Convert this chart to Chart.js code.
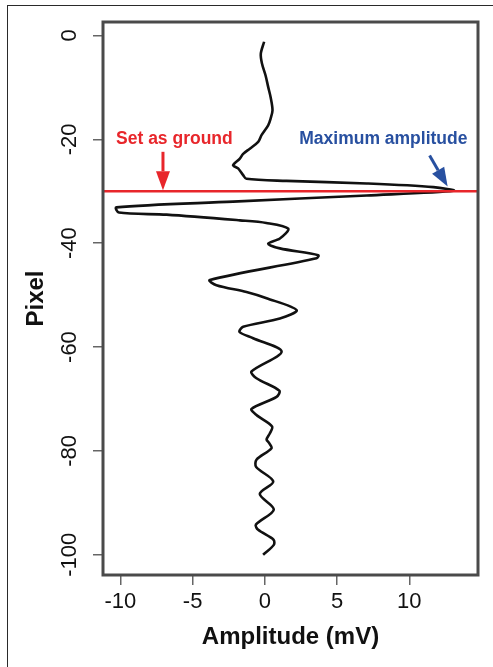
<!DOCTYPE html>
<html>
<head>
<meta charset="utf-8">
<script src="https://cdn.jsdelivr.net/npm/chart.js@4.4.1/dist/chart.umd.min.js"></script>
<style>
body{margin:0;background:#fff}
#wrap{position:relative;width:493px;height:667px;overflow:hidden}
#frame{position:absolute;left:7px;top:5px;width:520px;height:700px;border-left:1.5px solid #2a2a2a;border-top:1.5px solid #2a2a2a}
canvas{position:absolute;left:0;top:0}
</style>
</head>
<body>
<div id="wrap"><div id="frame"></div><canvas id="c" width="493" height="667"></canvas></div>
<script>
// trace, top -> bottom
const pixel = [-1.2, -3.5, -5.4, -7.7, -9.9, -11.9, -14.4, -16.0, -17.3, -19.2, -20.5, -21.8, -22.8, -23.7, -25.0, -25.6, -26.9, -27.6, -28.0, -28.5, -29.2, -29.9, -30.8, -32.0, -33.1, -34.1, -34.5, -35.6, -36.1, -37.2, -39.1, -40.1, -41.0, -42.3, -42.9, -47.1, -48.1, -49.4, -50.6, -52.9, -54.5, -56.1, -57.1, -58.3, -60.9, -64.7, -66.0, -68.4, -69.6, -71.9, -73.1, -75.3, -76.6, -77.8, -78.5, -79.5, -81.7, -83.1, -85.9, -88.3, -91.3, -94.2, -95.2, -97.1, -98.1, -100.0]
const amplitude = [-0.05, -0.28, -0.2, 0.05, 0.23, 0.4, 0.53, 0.4, 0.23, -0.23, -0.46, -1.04, -1.5, -1.73, -2.2, -1.85, -1.5, -1.27, 1.5, 7.05, 11.67, 13.06, 7.05, -2.2, -10.28, -10.1, -6.8, -1.73, 0.1, 1.62, 1.04, 0.23, 1.04, 3.7, 3.58, -3.81, -3.35, -1.27, 0.12, 2.2, 1.04, -1.5, -1.75, -0.81, 1.16, -0.92, -0.58, 1.0, 0.81, -0.92, -0.58, 0.5, 0.35, 0.12, 0.3, 0.46, -0.58, -0.6, 0.58, -0.35, 0.62, -0.62, -0.46, 0.6, 0.62, -0.12]
const groundLevel = -30
const xTicks = [-10, -5, 0, 5, 10]
const yTicks = [0, -20, -40, -60, -80, -100]
const xRange = [-11.2, 14.75]
const yRange = [-103.9, 2.6]

const fam = '"Liberation Sans", Arial, Helvetica, sans-serif'
const red = '#e8262b'
const blue = '#2850a0'

let arrow = (ctx, x0, y0, x1, y1, col) => {
	let ang = Math.atan2(y1 - y0, x1 - x0)
	let hl = 19, hw = 7
	let bx = x1 - hl * Math.cos(ang), by = y1 - hl * Math.sin(ang)
	ctx.strokeStyle = col
	ctx.fillStyle = col
	ctx.lineWidth = 3
	ctx.beginPath()
	ctx.moveTo(x0, y0)
	ctx.lineTo(bx, by)
	ctx.stroke()
	ctx.beginPath()
	ctx.moveTo(x1, y1)
	ctx.lineTo(bx + hw * Math.sin(ang), by - hw * Math.cos(ang))
	ctx.lineTo(bx - hw * Math.sin(ang), by + hw * Math.cos(ang))
	ctx.closePath()
	ctx.fill()
}

const extras = {
	id: 'extras',
	afterDatasetsDraw(chart) {
		const {ctx, chartArea: a, scales: {x, y}} = chart
		ctx.save()
		ctx.strokeStyle = '#4a4a4a'
		ctx.lineWidth = 3
		ctx.strokeRect(a.left, a.top, a.right - a.left, a.bottom - a.top)
		arrow(ctx, x.getPixelForValue(-7.05), y.getPixelForValue(-22.4), x.getPixelForValue(-7.05), y.getPixelForValue(-29.8), red)
		arrow(ctx, x.getPixelForValue(11.4), y.getPixelForValue(-23.1), x.getPixelForValue(12.65), y.getPixelForValue(-29.1), blue)
		ctx.font = 'bold 17.5px ' + fam
		ctx.textAlign = 'center'
		ctx.textBaseline = 'middle'
		ctx.fillStyle = red
		ctx.fillText('Set as ground', x.getPixelForValue(-6.26), y.getPixelForValue(-19.9))
		ctx.fillStyle = blue
		ctx.fillText('Maximum amplitude', x.getPixelForValue(8.2), y.getPixelForValue(-19.9))
		ctx.restore()
	}
}

new Chart(document.getElementById('c'), {
	type: 'scatter',
	data: {
		datasets: [
			{
				data: [{x: xRange[0], y: groundLevel}, {x: xRange[1], y: groundLevel}],
				showLine: true, borderColor: red, borderWidth: 2.5, pointRadius: 0, order: 0
			},
			{
				data: pixel.map((p, i) => ({x: amplitude[i], y: p})),
				showLine: true, borderColor: '#111', borderWidth: 2.6, pointRadius: 0, tension: 0.3, order: 1
			}
		]
	},
	options: {
		responsive: false,
		animation: false,
		events: [],
		layout: {padding: {left: 0, top: 22, right: 15, bottom: 0}},
		plugins: {legend: {display: false}, tooltip: {enabled: false}},
		scales: {
			x: {
				type: 'linear', min: xRange[0], max: xRange[1],
				afterBuildTicks: s => { s.ticks = xTicks.map(v => ({value: v})) },
				afterFit: s => { s.height = 92 },
				border: {display: false},
				grid: {drawOnChartArea: false, drawTicks: true, tickLength: 10, color: '#666', lineWidth: 1.5},
				ticks: {font: {size: 22, family: fam}, color: '#111', padding: 4, maxRotation: 0, autoSkip: false},
				title: {display: true, text: 'Amplitude (mV)', color: '#111', font: {size: 24, weight: 'bold', family: fam}, padding: {top: 0, bottom: 15}}
			},
			y: {
				type: 'linear', min: yRange[0], max: yRange[1],
				afterBuildTicks: s => { s.ticks = yTicks.map(v => ({value: v})) },
				afterFit: s => { s.width = 103 },
				border: {display: false},
				grid: {drawOnChartArea: false, drawTicks: true, tickLength: 10, color: '#666', lineWidth: 1.5},
				ticks: {font: {size: 22, family: fam}, color: '#111', padding: 1, minRotation: 90, maxRotation: 90, crossAlign: 'center', autoSkip: false},
				title: {display: true, text: 'Pixel', color: '#111', font: {size: 24, weight: 'bold', family: fam}, padding: {top: 22, bottom: 0}}
			}
		}
	},
	plugins: [extras]
})
</script>
</body>
</html>
